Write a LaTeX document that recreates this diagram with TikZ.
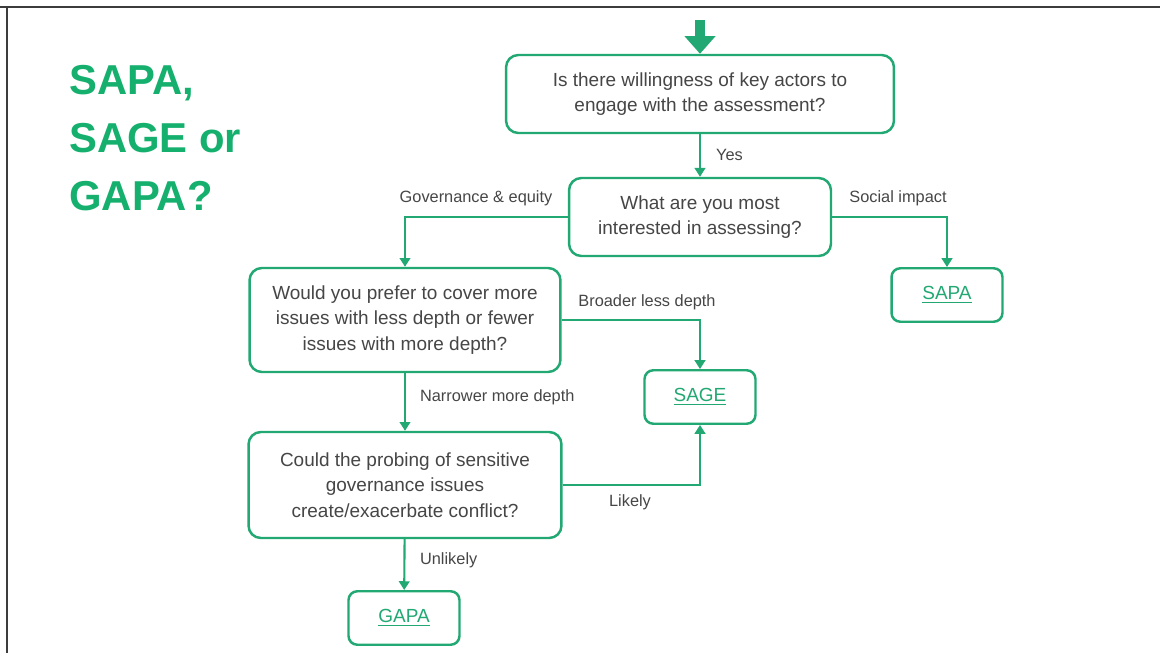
\documentclass[tikz,border=0pt]{standalone}
\usepackage{fontspec}
\setmainfont{Liberation Sans}
\usetikzlibrary{arrows.meta}
\definecolor{boxgreen}{RGB}{34,168,114}
\definecolor{titlegreen}{RGB}{22,176,110}
\definecolor{textgray}{RGB}{70,70,70}
\definecolor{framegray}{RGB}{60,60,60}

\begin{document}
\begin{tikzpicture}[x=0.02cm,y=-0.02cm,
    question/.style={draw=boxgreen,line width=1.4pt,rounded corners=7pt,align=center,text=textgray,
        font=\fontsize{10.8}{14.6}\selectfont,inner sep=2pt},
    answer/.style={draw=boxgreen,line width=1.4pt,rounded corners=5pt,minimum width=2.22cm,minimum height=1.07cm,
        text=boxgreen,font=\fontsize{10.8}{13}\selectfont},
    flow/.style={draw=boxgreen,line width=1.2pt,-{Triangle[width=6pt,length=5pt]}},
    branch/.style={text=textgray,font=\fontsize{9.3}{11}\selectfont,inner sep=1pt}]
                \useasboundingbox (0,0) rectangle (1160,653);
                \fill[white] (0,0) rectangle (1160,653);
                \draw[framegray,line width=1.7pt] (0,7)--(1160,7);
                \draw[framegray,line width=1.7pt] (7,7)--(7,653);
                \node[titlegreen,anchor=north west,align=left,inner sep=0pt,font=\fontsize{23.8}{33}\bfseries] (title) at (69,65) {SAPA,\\SAGE or\\GAPA?};
                \node[question,minimum width=7.76cm,minimum height=1.56cm] (q1) at (700,94) {Is there willingness of key actors to\\engage with the assessment?};
                \node[question,minimum width=5.24cm,minimum height=1.56cm] (q2) at (700,217) {What are you most\\interested in assessing?};
                \node[question,minimum width=6.22cm,minimum height=2.08cm] (q3) at (405,320) {Would you prefer to cover more\\issues with less depth or fewer\\issues with more depth?};
                \node[question,minimum width=6.26cm,minimum height=2.12cm] (q4) at (405,485) {Could the probing of sensitive\\governance issues\\create/exacerbate conflict?};
                \node[answer] (sapa) at (947,295) {\underline{SAPA}};
                \node[answer] (sage) at (700,397) {\underline{SAGE}};
                \node[answer] (gapa) at (404,618) {\underline{GAPA}};
                \coordinate (entry) at (700,20);
                \draw[boxgreen,line width=6pt,-{Triangle[width=17pt,length=10pt]}] (entry)--(q1.north);
                \draw[flow] (q1)--(q2);
                \draw[flow] (q2.west)-|(q3.north);
                \draw[flow] (q2.east)-|(sapa.north);
                \draw[flow] (q3.east)-|(sage.north);
                \draw[flow] (q3)--(q4);
                \draw[flow] (q4.east)-|(sage.south);
                \draw[flow] (q4)--(gapa);
                \node[branch,anchor=west] (yes) at (714,155) {Yes};
                \node[branch] (goveq) at (476,198) {Governance \& equity};
                \node[branch] (social) at (898,198) {Social impact};
                \node[branch] (broader) at (647,302) {Broader less depth};
                \node[branch,anchor=west] (narrower) at (418,397) {Narrower more depth};
                \node[branch] (likely) at (630,502) {Likely};
                \node[branch,anchor=west] (unlikely) at (418,560) {Unlikely};
            \end{tikzpicture}
\end{document}
